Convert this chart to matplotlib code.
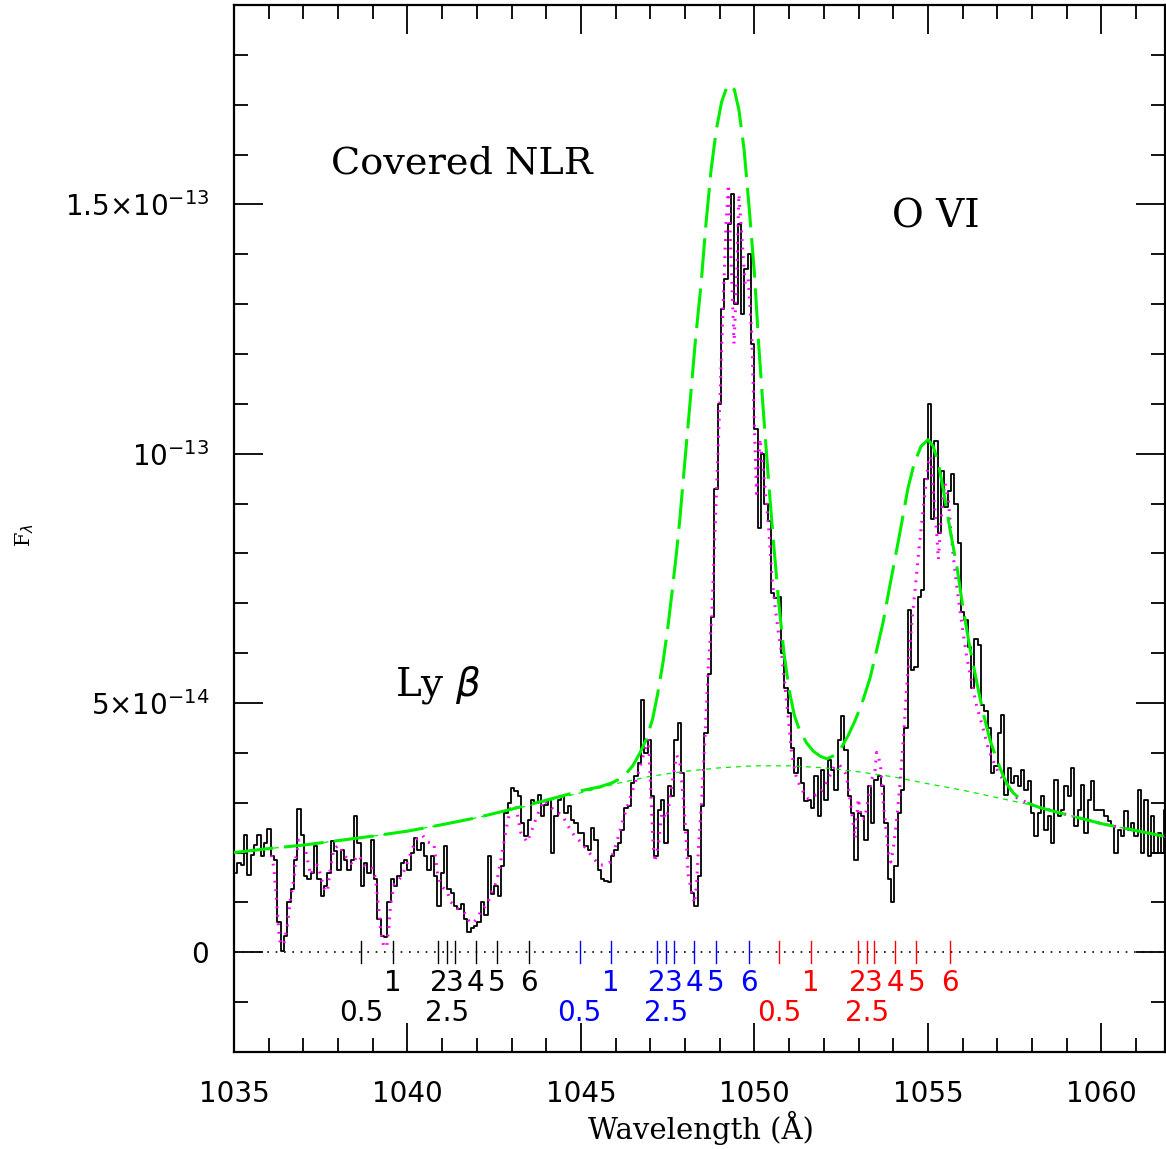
import numpy as np
import matplotlib
matplotlib.use("Agg")
import matplotlib.pyplot as plt
from matplotlib.ticker import MultipleLocator, FixedLocator, FixedFormatter

plt.rcParams['mathtext.fontset'] = 'dejavusans'

# ---------------- data (flux in units of 1e-14) ----------------
wave_start = 1035.05
wave_step = 0.0961
flux = [
    1.6, 1.8, 1.75, 2.36, 1.55, 1.95, 2.15, 2.36, 1.93, 2.2,
    2.47, 1.93, 1.86, 0.6, 0.03, 0.33, 1.0, 1.26, 1.86, 2.87,
    2.36, 1.53, 1.46, 1.6, 2.13, 1.46, 1.13, 1.33, 1.6, 2.23,
    2.03, 1.66, 2.06, 1.86, 1.66, 1.86, 2.73, 2.19, 1.33, 1.79,
    1.6, 2.26, 1.46, 0.66, 0.33, 0.3, 1.0, 1.46, 1.33, 1.53,
    1.79, 1.86, 1.66, 1.99, 2.29, 2.06, 2.19, 1.93, 1.66, 1.93,
    1.53, 0.93, 1.6, 2.13, 1.26, 1.19, 0.93, 0.86, 0.96, 0.66,
    0.40, 0.49, 0.53, 0.6, 1.0, 0.75, 1.93, 1.16, 1.33, 1.13,
    1.73, 2.79, 2.99, 3.29, 3.23, 3.13, 2.59, 2.33, 2.66, 3.06,
    2.99, 3.16, 2.73, 2.96, 3.06, 1.99, 2.73, 3.06, 3.13, 2.79,
    2.93, 2.66, 2.59, 2.39, 2.39, 2.13, 2.06, 2.49, 2.26, 1.66,
    # 1045.6 -
    1.46, 1.43, 1.4, 1.93, 2.06, 2.2, 2.46, 2.9, 2.93, 3.39,
    3.53, 3.8, 5.06, 3.99, 4.26, 3.13, 1.93, 2.86, 3.06, 2.19,
    3.33, 3.13, 4.26, 4.6, 3.59, 2.46, 1.93, 1.19, 0.93, 1.53,
    2.93, 4.39, 5.59, 6.73,
    # peak
    9.3, 11.0, 12.9, 13.5, 14.6, 15.2, 13.0, 14.6, 12.8, 13.7,
    14.0, 12.2, 10.5, 8.5,
    # 1050.2 -
    10.0, 9.0, 8.66, 7.2, 7.1, 7.13, 6.0, 5.3, 4.8, 4.1,
    3.59, 3.9, 3.39, 3.03, 3.06, 2.89, 3.53, 2.73, 3.66, 3.06,
    3.86, 3.66, 3.26, 4.26, 4.73, 4.06, 3.13, 2.79, 1.86, 2.79,
    2.73, 2.26, 3.33, 2.59, 3.46, 3.53, 3.33, 2.59, 1.46, 1.0,
    1.73, 2.79, 3.26,
    # 1054.3 -
    4.5, 6.86, 5.66, 5.73, 7.13, 7.26, 9.5, 11.0, 8.7, 10.26,
    8.4, 9.66, 8.93, 9.26, 9.59, 8.99, 8.2, 6.83, 6.66, 6.13,
    5.3, 6.29, 6.16, 4.96, 4.83, 4.5, 3.59, 3.73, 4.39, 4.76,
    3.16, 3.69, 3.39, 3.53, 3.33, 3.66, 3.26, 3.43,
    # 1057.9 -
    2.8, 2.33, 2.8, 3.13, 2.46, 2.73, 2.19, 3.46, 2.73, 2.86,
    3.33, 3.13, 3.69, 2.53, 2.86, 3.36, 2.39, 3.06, 3.43, 2.86,
    2.86, 2.86, 2.73, 2.63, 2.53, 1.99, 2.46, 2.33, 2.83, 2.46,
    2.59, 2.33, 3.26, 1.99, 3.06, 1.93, 2.73, 1.99, 2.39, 1.99,
    2.86,
]

cont_wave = [1035.0, 1036.0, 1037.0, 1038.0, 1039.0, 1040.0, 1041.0, 1042.0,
             1043.0, 1044.0, 1045.0, 1046.0, 1047.0, 1048.0, 1049.0, 1050.0,
             1051.0, 1052.0, 1053.0, 1054.0, 1055.0, 1056.0, 1057.0, 1058.0,
             1059.0, 1060.0, 1061.0, 1062.0]
cont_flux = [2.0, 2.08, 2.15, 2.24, 2.33, 2.43, 2.56, 2.70, 2.86, 3.03, 3.2,
             3.38, 3.53, 3.63, 3.70, 3.74, 3.74, 3.70, 3.62, 3.52, 3.38, 3.25,
             3.1, 2.95, 2.76, 2.58, 2.44, 2.30]

model_wave = [1035.0, 1036.0, 1037.0, 1038.0, 1039.0, 1040.0, 1041.0, 1042.0,
              1043.0, 1044.0, 1045.0, 1045.55, 1045.9, 1046.12, 1046.3, 1046.5,
              1046.7, 1046.9, 1047.07, 1047.2, 1047.36, 1047.5, 1047.62,
              1047.75, 1047.85, 1048.0, 1048.14, 1048.3, 1048.46, 1048.6,
              1048.75, 1048.9, 1049.05, 1049.2, 1049.3, 1049.42, 1049.55,
              1049.7, 1049.85, 1050.0, 1050.12, 1050.25, 1050.4, 1050.55,
              1050.7, 1050.85, 1051.0, 1051.15, 1051.3, 1051.5, 1051.7, 1051.9,
              1052.09, 1052.3, 1052.5, 1052.7, 1052.9, 1053.1, 1053.33, 1053.5,
              1053.7, 1053.9, 1054.05, 1054.2, 1054.42, 1054.6, 1054.8, 1055.0,
              1055.15, 1055.3, 1055.45, 1055.63, 1055.84, 1056.01, 1056.21,
              1056.41, 1056.59, 1056.79, 1056.99, 1057.16, 1057.3, 1057.45,
              1057.65, 1057.85, 1058.23, 1059.0, 1060.0, 1061.0, 1062.0]
model_flux = [2.0, 2.08, 2.15, 2.24, 2.33, 2.43, 2.56, 2.70, 2.87, 3.05, 3.24,
              3.32, 3.40, 3.48, 3.58, 3.75, 4.0, 4.3, 4.7, 5.15, 5.8, 6.5, 7.2,
              8.0, 8.7, 9.9, 11.0, 12.3, 13.4, 14.6, 15.7, 16.5, 17.05, 17.35,
              17.4, 17.3, 16.9, 16.1, 14.9, 13.6, 12.2, 10.9, 9.5, 8.2, 7.0, 6.0,
              5.25, 4.75, 4.45, 4.2, 4.03, 3.93, 3.88, 3.95, 4.1, 4.35, 4.65,
              5.0, 5.5, 6.0, 6.6, 7.35, 7.9, 8.45, 9.3, 9.8, 10.15, 10.28,
              10.15, 9.8, 9.25, 8.5, 7.7, 6.9, 6.1, 5.4, 4.8, 4.25, 3.85, 3.55,
              3.35, 3.2, 3.08, 3.0, 2.9, 2.76, 2.58, 2.44, 2.30]

absm_wave = [1035.0, 1036.0, 1036.06, 1036.15, 1036.20, 1036.25, 1036.30, 1036.34,
             1036.44, 1036.54, 1036.63, 1036.73, 1036.78, 1036.87, 1037.02,
             1037.11, 1037.21, 1037.31, 1037.40, 1037.50, 1037.59, 1037.69,
             1037.79, 1037.88, 1038.03, 1038.17, 1038.31, 1038.41, 1038.55,
             1038.65, 1038.75, 1038.84, 1038.99, 1039.08, 1039.13, 1039.18,
             1039.23, 1039.32, 1039.40, 1039.47, 1039.51, 1039.61, 1039.71,
             1039.85, 1040.00, 1040.14, 1040.28, 1040.43, 1040.57, 1040.76,
             1040.86, 1040.96, 1041.05, 1041.15, 1041.24, 1041.34, 1041.44,
             1041.53, 1041.63, 1041.72, 1041.82, 1041.92, 1042.01, 1042.16,
             1042.30, 1042.40, 1042.49, 1042.59, 1042.68, 1042.78, 1042.88,
             1042.97, 1043.12, 1043.26, 1043.45, 1043.60, 1043.74, 1043.93,
             1044.22, 1044.46, 1044.61, 1044.80, 1044.99, 1045.18, 1045.37,
             1045.52, 1045.64, 1045.84, 1046.03, 1046.22, 1046.41, 1046.60,
             1046.80, 1046.94, 1046.99, 1047.04, 1047.08, 1047.13, 1047.23,
             1047.33, 1047.47, 1047.56, 1047.66, 1047.76, 1047.85, 1047.95,
             1048.03, 1048.09, 1048.19, 1048.27, 1048.33, 1048.39, 1048.48,
             1048.57, 1048.67, 1048.77, 1049.01, 1049.10, 1049.18, 1049.25,
             1049.34, 1049.41, 1049.49, 1049.55, 1049.63, 1049.73, 1049.82,
             1049.92, 1049.99, 1050.06, 1050.16, 1050.25, 1050.40, 1050.50,
             1050.59, 1050.69, 1050.78, 1050.93, 1051.07, 1051.17, 1051.26,
             1051.41, 1051.55, 1051.74, 1051.89, 1052.03, 1052.18, 1052.32,
             1052.46, 1052.61, 1052.70, 1052.80, 1052.90, 1052.99, 1053.09,
             1053.18, 1053.28, 1053.38, 1053.47, 1053.52, 1053.57, 1053.64,
             1053.71, 1053.79, 1053.86, 1053.93, 1054.00, 1054.10, 1054.19,
             1054.29, 1054.39, 1054.46, 1054.53, 1054.63, 1054.72, 1054.82,
             1054.91, 1055.01, 1055.08, 1055.15, 1055.23, 1055.30, 1055.37,
             1055.42, 1055.49, 1055.59, 1055.65, 1055.75, 1055.84, 1055.97,
             1056.11, 1056.26, 1056.40, 1056.59, 1056.74, 1056.93, 1057.07,
             1057.27, 1057.56, 1058.0, 1059.0, 1060.0, 1061.0, 1062.0]
absm_flux = [2.0, 2.08, 2.05, 1.68, 1.28, 0.81, 0.35, 0.15, 0.18, 0.55, 1.08,
             1.48, 1.88, 2.25, 2.21, 1.88, 1.55, 1.71, 1.75, 1.55, 1.28, 1.21,
             1.75, 2.08, 2.15, 1.95, 1.85, 1.75, 1.95, 1.88, 1.75, 1.68, 1.68,
             1.48, 1.15, 0.81, 0.41, 0.11, 0.11, 0.55, 0.95, 1.35, 1.41, 1.55,
             1.81, 2.08, 2.28, 2.35, 2.21, 2.18, 1.61, 1.35, 1.28, 1.21, 1.01,
             0.95, 0.88, 0.85, 0.81, 0.68, 0.58, 0.61, 0.68, 0.88, 0.95, 1.18,
             1.28, 1.48, 1.81, 2.21, 2.61, 2.88, 2.95, 2.41, 2.21, 2.48, 2.75,
             3.05, 2.85, 2.75, 2.55, 2.35, 2.21, 2.05, 1.88, 1.75, 1.75, 1.81,
             2.21, 2.68, 3.08, 3.48, 3.95, 4.28, 3.61, 2.75, 2.15, 1.81, 2.15,
             2.81, 2.68, 3.08, 3.55, 3.95, 3.81, 3.08, 2.28, 1.55, 1.21, 0.98,
             1.35, 2.15, 3.08, 4.28, 5.75, 6.75, 11.2, 13.1, 14.6, 15.4, 13.6,
             12.2, 13.6, 15.2, 14.4, 13.4, 13.5, 12.4, 10.7, 9.2, 10.3, 9.7,
             8.6, 7.55, 6.95, 6.4, 6.0, 5.0, 4.0, 3.6, 3.41, 3.21, 3.08, 3.15,
             3.18, 3.35, 3.55, 3.75, 3.75, 3.61, 3.35, 2.81, 2.28, 3.08, 2.68,
             2.68, 3.08, 3.48, 3.61, 4.01, 3.95, 3.68, 3.01, 2.48, 2.01, 1.81,
             2.08, 2.68, 3.35, 4.28, 5.35, 5.95, 6.61, 7.28, 7.95, 8.61, 9.21,
             9.81, 9.95, 9.28, 8.61, 7.88, 8.61, 9.08, 9.41, 9.08, 8.48, 7.81,
             7.28, 6.61, 5.95, 5.41, 4.95, 4.48, 4.08, 3.75, 3.55, 3.38, 3.1,
             2.95, 2.76, 2.58, 2.44, 2.30]

# velocity-component markers (wavelengths) for Ly beta, O VI 1032, O VI 1038
comp_labels = ["0.5", "1", "2", "2.5", "3", "4", "5", "6"]
lyb_marks = [1038.67, 1039.57, 1040.89, 1041.15, 1041.37, 1041.96, 1042.57, 1043.51]
ovi1_marks = [1044.96, 1045.86, 1047.19, 1047.45, 1047.67, 1048.27, 1048.88, 1049.83]
ovi2_marks = [1050.72, 1051.63, 1052.97, 1053.23, 1053.45, 1054.05, 1054.66, 1055.62]

ytick_vals = [0, 5e-14, 1e-13, 1.5e-13]
ytick_text = ["0", r"$5{\times}10^{-14}$", r"$10^{-13}$", r"$1.5{\times}10^{-13}$"]
xtick_vals = [1035, 1040, 1045, 1050, 1055, 1060]

# ---------------- figure ----------------
W, H = 1166, 1149
fig = plt.figure(figsize=(W / 100, H / 100), dpi=100)
ax = fig.add_axes([234 / W, 1 - 1052 / H, (1165 - 234) / W, (1052 - 5) / H])

scale = 1e-14
wave = wave_start + wave_step * np.arange(len(flux))
ax.plot(wave, np.array(flux) * scale, drawstyle='steps-mid', color='black',
        lw=1.3, zorder=3)
ax.plot(absm_wave, np.array(absm_flux) * scale, color='#ff00ff', lw=2.2,
        linestyle=(0, (0.6, 2.2)), dash_capstyle='butt', zorder=4)
ax.plot(cont_wave, np.array(cont_flux) * scale, color='#00ee00', lw=0.9,
        linestyle=(0, (4, 4)), zorder=5)
ax.plot(model_wave, np.array(model_flux) * scale, color='#00ee00', lw=2.2,
        linestyle=(0, (13, 3.5)), zorder=5)

# zero line
ax.axhline(0, color='black', lw=1.2, linestyle=(0, (1, 4)), zorder=2)

# component markers
for marks, col in [(lyb_marks, 'black'), (ovi1_marks, 'blue'), (ovi2_marks, 'red')]:
    for w, lab in zip(marks, comp_labels):
        ax.plot([w, w], [-0.22e-14, 0.22e-14], color=col, lw=1.0, zorder=3)
        yy = -1.22e-14 if '.' in lab else -0.62e-14
        ax.text(w, yy, lab, color=col, ha='center', va='center',
                fontsize=20, family='DejaVu Sans')

# annotations
ax.text(1041.57, 15.82e-14, "Covered NLR", ha='center', va='center',
        fontsize=27.5, family='DejaVu Serif')
ax.text(1055.23, 14.74e-14, "O VI", ha='center', va='center',
        fontsize=28, family='DejaVu Serif')
ax.text(1040.88, 5.36e-14, r"Ly $\beta$", ha='center', va='center',
        fontsize=28, family='DejaVu Serif')

ax.set_xlim(1035, 1061.83)
ax.set_ylim(-2e-14, 1.9e-13)

ax.xaxis.set_major_locator(FixedLocator(xtick_vals))
ax.xaxis.set_minor_locator(MultipleLocator(1))
ax.yaxis.set_major_locator(FixedLocator(ytick_vals))
ax.yaxis.set_major_formatter(FixedFormatter(ytick_text))
ax.yaxis.set_minor_locator(MultipleLocator(1e-14))

ax.tick_params(which='both', direction='in', top=True, right=True,
               width=1.3, labelsize=20)
ax.tick_params(which='major', length=21)
ax.tick_params(which='minor', length=10)
ax.tick_params(axis='x', pad=20)
ax.tick_params(axis='y', pad=18)
for s in ax.spines.values():
    s.set_linewidth(1.6)

fig.text(701 / W, 1 - 1128 / H, "Wavelength (Å)", ha='center', va='center',
         fontsize=21, family='DejaVu Serif')
fig.text(25 / W, 1 - 535 / H, r"F$_\lambda$", rotation=90, ha='center',
         va='center', fontsize=15, family='DejaVu Serif')

fig.savefig("out.png", dpi=100)
